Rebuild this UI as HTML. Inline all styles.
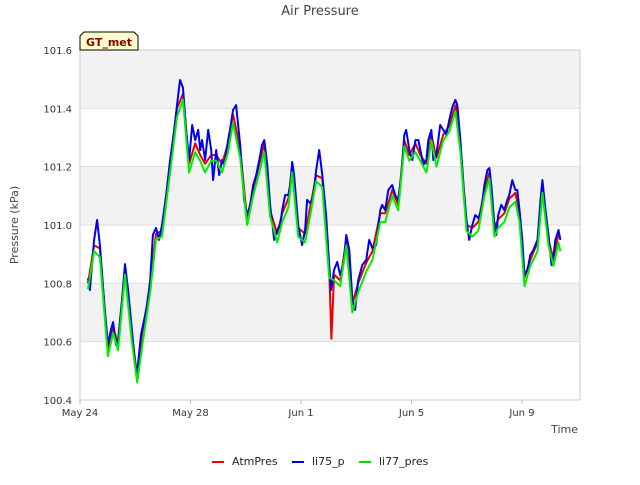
<!DOCTYPE html>
<html><head><meta charset="utf-8"><style>
body{margin:0;background:#fff;font-family:"Liberation Sans","DejaVu Sans",sans-serif}
svg text{font-family:"DejaVu Sans","Liberation Sans",sans-serif}
</style></head><body>
<svg id="chart" width="640" height="480" xmlns="http://www.w3.org/2000/svg">
<text x="320" y="15" text-anchor="middle" font-size="13" fill="#444">Air Pressure</text>
<g id="bands"></g>
<g id="grid"></g>
<g id="series"></g>
<g id="axes"></g>
<text transform="translate(18,225) rotate(-90)" text-anchor="middle" font-size="11" fill="#444">Pressure (kPa)</text>
<text x="578" y="433" text-anchor="end" font-size="11" fill="#444">Time</text>
<g>
<path d="M80,50 L80,36 L84,32 L134,32 L138,36 L138,50 Z" fill="#ffffcc" stroke="#000" stroke-width="1"/>
<text x="109" y="46" text-anchor="middle" font-size="11" font-weight="bold" fill="#8b0000">GT_met</text>
</g>
<g>
<g><line x1="212" y1="462" x2="224" y2="462" stroke="#e00" stroke-width="2"/><text x="232" y="465" font-size="11" fill="#222">AtmPres</text></g>
<g><line x1="292" y1="462" x2="304" y2="462" stroke="#00d" stroke-width="2"/><text x="312" y="465" font-size="11" fill="#222">li75_p</text></g>
<g><line x1="359" y1="462" x2="371" y2="462" stroke="#0d0" stroke-width="2"/><text x="379" y="465" font-size="11" fill="#222">li77_pres</text></g>
</g>
</svg>
<script>
const yTicks=[100.4,100.6,100.8,101.0,101.2,101.4,101.6];
const yTickLabels=["100.4","100.6","100.8","101.0","101.2","101.4","101.6"];
const xTicks=[0,4,8,12,16];
const xTickLabels=["May 24","May 28","Jun 1","Jun 5","Jun 9"];
const blueT=[0.29,0.36,0.51,0.62,0.72,0.87,1.01,1.12,1.20,1.30,1.38,1.52,1.63,1.74,1.88,1.99,2.07,2.21,2.32,2.43,2.54,2.64,2.75,2.86,2.97,3.12,3.26,3.41,3.51,3.62,3.73,3.84,3.95,4.06,4.17,4.28,4.35,4.42,4.53,4.64,4.75,4.82,4.93,5.04,5.14,5.22,5.36,5.43,5.54,5.65,5.80,5.94,6.05,6.16,6.27,6.38,6.49,6.59,6.67,6.78,6.88,7.03,7.14,7.25,7.32,7.43,7.54,7.61,7.68,7.75,7.90,8.04,8.15,8.22,8.33,8.44,8.55,8.66,8.77,8.91,9.02,9.09,9.20,9.31,9.42,9.53,9.64,9.75,9.86,9.96,10.07,10.22,10.36,10.47,10.58,10.72,10.87,10.94,11.05,11.16,11.30,11.41,11.52,11.63,11.74,11.81,11.92,12.03,12.14,12.25,12.32,12.43,12.54,12.61,12.72,12.79,12.90,13.04,13.15,13.26,13.37,13.48,13.59,13.66,13.77,13.88,13.99,14.09,14.20,14.31,14.42,14.53,14.64,14.75,14.82,14.89,15.00,15.07,15.14,15.25,15.36,15.47,15.54,15.65,15.76,15.83,15.91,16.01,16.09,16.20,16.30,16.41,16.56,16.67,16.74,16.85,16.96,17.07,17.14,17.21,17.32,17.39];
const blueV=[100.818,100.777,100.949,101.017,100.931,100.743,100.589,100.640,100.667,100.589,100.606,100.743,100.866,100.777,100.640,100.520,100.496,100.623,100.674,100.726,100.811,100.966,100.990,100.949,101.000,101.103,101.223,101.326,101.411,101.497,101.470,101.326,101.223,101.343,101.291,101.326,101.257,101.291,101.223,101.326,101.257,101.154,101.257,101.171,101.223,101.206,101.291,101.326,101.394,101.411,101.274,101.086,101.034,101.069,101.137,101.171,101.223,101.274,101.291,101.206,101.069,100.949,100.983,101.000,101.051,101.103,101.103,101.137,101.216,101.171,101.000,100.931,100.983,101.086,101.075,101.093,101.189,101.257,101.171,101.034,100.863,100.777,100.846,100.873,100.829,100.863,100.966,100.914,100.743,100.709,100.811,100.863,100.880,100.949,100.921,100.931,101.051,101.069,101.051,101.120,101.137,101.103,101.086,101.171,101.309,101.326,101.257,101.223,101.291,101.291,101.257,101.206,101.223,101.291,101.326,101.223,101.240,101.343,101.326,101.309,101.360,101.405,101.429,101.411,101.291,101.137,101.017,100.949,101.000,101.034,101.024,101.051,101.137,101.189,101.195,101.137,101.000,100.966,101.034,101.069,101.051,101.086,101.103,101.154,101.120,101.120,101.051,100.949,100.829,100.846,100.897,100.914,100.949,101.086,101.154,101.051,100.966,100.863,100.897,100.949,100.983,100.949];
const redT=[0.29,0.51,0.72,1.01,1.20,1.38,1.63,1.88,2.07,2.32,2.54,2.75,2.97,3.26,3.51,3.73,3.95,4.17,4.35,4.53,4.75,4.93,5.14,5.36,5.54,5.80,6.05,6.27,6.49,6.67,6.88,7.14,7.32,7.54,7.68,7.90,8.15,8.33,8.55,8.77,9.02,9.10,9.20,9.42,9.64,9.86,10.07,10.36,10.58,10.87,11.05,11.30,11.52,11.74,11.92,12.14,12.32,12.54,12.72,12.90,13.15,13.37,13.59,13.77,13.99,14.20,14.42,14.64,14.82,15.00,15.14,15.36,15.54,15.76,15.91,16.09,16.30,16.56,16.74,16.96,17.14,17.32];
const redV=[100.80,100.93,100.92,100.57,100.65,100.59,100.85,100.63,100.48,100.66,100.80,100.97,100.98,101.21,101.40,101.45,101.21,101.28,101.24,101.21,101.24,101.24,101.21,101.28,101.38,101.26,101.02,101.12,101.21,101.28,101.05,100.97,101.04,101.09,101.20,100.99,100.97,101.06,101.17,101.16,100.85,100.61,100.83,100.81,100.95,100.73,100.80,100.87,100.91,101.04,101.04,101.12,101.07,101.29,101.24,101.28,101.24,101.21,101.31,101.23,101.31,101.34,101.41,101.28,101.00,100.99,101.01,101.12,101.18,100.99,101.02,101.04,101.09,101.11,101.04,100.82,100.88,100.94,101.14,100.95,100.88,100.97];
const greenT=[0.29,0.51,0.72,1.01,1.20,1.38,1.63,1.88,2.07,2.32,2.54,2.75,2.97,3.26,3.51,3.73,3.95,4.17,4.35,4.53,4.75,4.93,5.14,5.36,5.54,5.80,6.05,6.27,6.49,6.67,6.88,7.14,7.32,7.54,7.68,7.90,8.15,8.33,8.55,8.77,9.02,9.20,9.42,9.64,9.86,10.07,10.36,10.58,10.87,11.05,11.30,11.52,11.74,11.92,12.14,12.32,12.54,12.72,12.90,13.15,13.37,13.59,13.77,13.99,14.20,14.42,14.64,14.82,15.00,15.14,15.36,15.54,15.76,15.91,16.09,16.30,16.56,16.74,16.96,17.14,17.32,17.39];
const greenV=[100.78,100.91,100.89,100.55,100.63,100.57,100.83,100.60,100.46,100.63,100.77,100.95,100.96,101.18,101.37,101.43,101.18,101.25,101.22,101.18,101.22,101.22,101.18,101.25,101.35,101.23,101.00,101.10,101.18,101.25,101.03,100.94,101.01,101.06,101.18,100.96,100.94,101.03,101.15,101.13,100.82,100.81,100.79,100.93,100.70,100.77,100.84,100.88,101.01,101.01,101.10,101.05,101.27,101.22,101.25,101.22,101.18,101.29,101.20,101.29,101.32,101.39,101.25,100.98,100.96,100.98,101.10,101.16,100.96,100.99,101.01,101.06,101.08,101.01,100.79,100.86,100.91,101.11,100.93,100.86,100.94,100.91];
const L=80,R=580,T=50,B=400,x0=0,x1=18.1,y0=100.4,y1=101.6;
const sx=d=>L+(d-x0)/(x1-x0)*(R-L);
const sy=v=>B-(v-y0)/(y1-y0)*(B-T);
const NS="http://www.w3.org/2000/svg";
function mk(tag,attrs,parent){const e=document.createElementNS(NS,tag);for(const k in attrs)e.setAttribute(k,attrs[k]);parent.appendChild(e);return e;}
const bands=document.getElementById('bands'),grid=document.getElementById('grid'),axes=document.getElementById('axes'),series=document.getElementById('series');
mk('rect',{x:L,y:T,width:R-L,height:B-T,fill:'#fff'},bands);
for(let i=0;i<yTicks.length-1;i++){if(i%2===1){const r=mk('rect',{x:L,y:sy(yTicks[i+1]),width:R-L,height:sy(yTicks[i])-sy(yTicks[i+1]),fill:'#f2f2f2'},bands);}}
yTicks.forEach((v,i)=>{const g=mk('line',{x1:L,x2:R,y1:sy(v),y2:sy(v),stroke:'#ddd','stroke-width':1},grid);
const t=mk('text',{x:L-8,y:sy(v)+4,'text-anchor':'end','font-size':10,fill:'#333'},axes);t.textContent=yTickLabels[i];});
xTicks.forEach((d,i)=>{const t=mk('text',{x:sx(d),y:B+16,'text-anchor':'middle','font-size':10,fill:'#333'},axes);t.textContent=xTickLabels[i];
mk('line',{x1:sx(d),x2:sx(d),y1:B,y2:B+4,stroke:'#bbb'},axes);});
mk('rect',{x:L,y:T,width:R-L,height:B-T,fill:'none',stroke:'#ccc'},axes);
function line(ts,vs,color,name){const p=mk('polyline',{points:ts.map((d,i)=>sx(d).toFixed(1)+','+sy(vs[i]).toFixed(1)).join(' '),fill:'none',stroke:color,'stroke-width':2,'stroke-linejoin':'round'},series);}
line(redT,redV,'#ee0000','atmpres-line');
line(blueT,blueV,'#0000ee','li75-p-line');
line(greenT,greenV,'#00ee00','li77-pres-line');
</script>
</body></html>
